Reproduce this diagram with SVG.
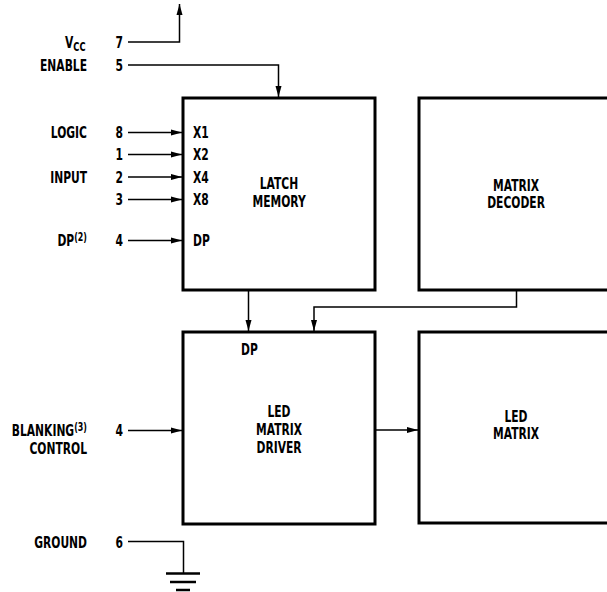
<svg xmlns="http://www.w3.org/2000/svg" width="607" height="592" viewBox="0 0 607 592">
<style>
text{font-family:"DejaVu Sans Condensed","Liberation Sans",sans-serif;font-weight:bold;font-size:15.5px;fill:#000;transform-box:fill-box;transform-origin:left center;transform:scaleX(0.77)}
.r{text-anchor:end;transform-origin:right center}
.m{text-anchor:middle;transform-origin:center center}
.box{fill:#fff;stroke:#000;stroke-width:3}
.w{fill:none;stroke:#000;stroke-width:1.5}
.a{marker-end:url(#ah)}
.sup{font-size:11.5px}
.g{stroke:#000;stroke-width:2.5}
</style>
<defs>
<marker id="ah" markerWidth="12" markerHeight="8" refX="11" refY="4" orient="auto" markerUnits="userSpaceOnUse">
<path d="M0,1 L11,4 L0,7 Z" fill="#000"/>
</marker>
</defs>
<rect width="607" height="592" fill="#fff"/>
<g id="latch-memory">
<rect class="box" x="183" y="98" width="192" height="192"/>
<text class="m" x="279" y="189">LATCH</text>
<text class="m" x="279" y="207">MEMORY</text>
<text x="193" y="138">X1</text>
<text x="193" y="160">X2</text>
<text x="193" y="183">X4</text>
<text x="193" y="205">X8</text>
<text x="193" y="246">DP</text>
</g>
<g id="matrix-decoder">
<rect class="box" x="419" y="98" width="200" height="192"/>
<text class="m" x="516" y="191">MATRIX</text>
<text class="m" x="516" y="208">DECODER</text>
</g>
<g id="led-matrix-driver">
<rect class="box" x="183" y="332" width="192" height="192"/>
<text x="241" y="355">DP</text>
<text class="m" x="279" y="417">LED</text>
<text class="m" x="279" y="435">MATRIX</text>
<text class="m" x="279" y="453">DRIVER</text>
</g>
<g id="led-matrix">
<rect class="box" x="419" y="332" width="200" height="191"/>
<text class="m" x="516" y="422">LED</text>
<text class="m" x="516" y="439">MATRIX</text>
</g>
<g id="pin-labels">
<text x="65" y="48">V<tspan font-size="12" dy="3">CC</tspan></text>
<text class="r" x="123" y="48">7</text>
<text class="r" x="87" y="71">ENABLE</text>
<text class="r" x="123" y="71">5</text>
<text class="r" x="87" y="138">LOGIC</text>
<text class="r" x="123" y="138">8</text>
<text class="r" x="123" y="160">1</text>
<text class="r" x="87" y="183">INPUT</text>
<text class="r" x="123" y="183">2</text>
<text class="r" x="123" y="205">3</text>
<text class="r" x="87" y="246">DP<tspan class="sup" dy="-5">(2)</tspan></text>
<text class="r" x="123" y="246">4</text>
<text class="r" x="87" y="436">BLANKING<tspan class="sup" dy="-5">(3)</tspan></text>
<text class="r" x="87" y="454">CONTROL</text>
<text class="r" x="123" y="436">4</text>
<text class="r" x="87" y="548">GROUND</text>
<text class="r" x="123" y="548">6</text>
</g>
<g id="connectors">
<polyline class="w a" points="128,42 179.5,42 179.5,4"/>
<polyline class="w a" points="128,65 278.5,65 278.5,97"/>
<line class="w a" x1="128" y1="132.5" x2="182" y2="132.5"/>
<line class="w a" x1="128" y1="154.5" x2="182" y2="154.5"/>
<line class="w a" x1="128" y1="177" x2="182" y2="177"/>
<line class="w a" x1="128" y1="199.5" x2="182" y2="199.5"/>
<line class="w a" x1="128" y1="240.5" x2="182" y2="240.5"/>
<line class="w a" x1="248.5" y1="291" x2="248.5" y2="331"/>
<polyline class="w a" points="516.5,291 516.5,307 314,307 314,331"/>
<line class="w a" x1="128" y1="430.5" x2="182" y2="430.5"/>
<line class="w a" x1="376" y1="430" x2="418" y2="430"/>
<polyline class="w" points="128,541.5 183.5,541.5 183.5,573.5"/>
<line class="g" x1="166" y1="573.5" x2="200" y2="573.5"/>
<line class="g" x1="170" y1="582" x2="196" y2="582"/>
<line class="g" x1="176" y1="590" x2="190" y2="590"/>
</g>
</svg>
